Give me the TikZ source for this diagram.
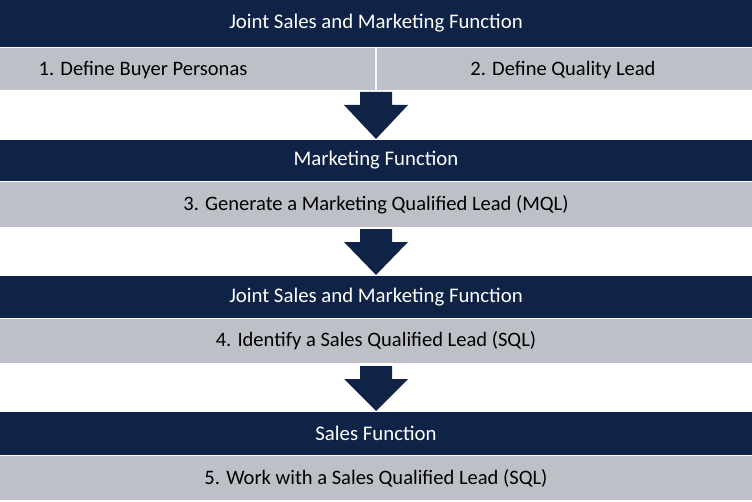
\documentclass[tikz,border=0pt]{standalone}
\usepackage{fontspec}
\setmainfont{Carlito}
\definecolor{navy}{HTML}{0E2346}
\definecolor{lgray}{HTML}{BDC0C7}
\begin{document}
\begin{tikzpicture}[x=0.75pt,y=-0.75pt,
  hdr/.style={text=white,font=\fontsize{15.6}{18}\selectfont},
  row/.style={text=black,font=\fontsize{15.4}{18}\selectfont},
  arr/.style={fill=navy,draw=none}]
\useasboundingbox (0,0) rectangle (752,502);
% band 1
\fill[navy] (0,0) rectangle (752,47);
\node[hdr] (h1) at (376,23.5) {Joint Sales and Marketing Function};
\fill[lgray] (0,48) rectangle (752,90);
\draw[white!85!lgray,line width=0.8pt] (376,48) -- (376,90);
\node[row] (r1a) at (143,70) {1. Define Buyer Personas};
\node[row] (r1b) at (563,70) {2. Define Quality Lead};
\fill[arr] (360,92) -- (392,92) -- (392,105) -- (408,105) -- (376,139) -- (344,105) -- (360,105) -- cycle;
% band 2
\fill[navy] (0,140) rectangle (752,181);
\node[hdr] (h2) at (376,160.5) {Marketing Function};
\fill[lgray] (0,182) rectangle (752,227);
\node[row] (r2) at (376,204.5) {3. Generate a Marketing Qualified Lead (MQL)};
\fill[arr] (360,229) -- (392,229) -- (392,242) -- (408,242) -- (376,275) -- (344,242) -- (360,242) -- cycle;
% band 3
\fill[navy] (0,276) rectangle (752,318);
\node[hdr] (h3) at (376,297) {Joint Sales and Marketing Function};
\fill[lgray] (0,319) rectangle (752,363);
\node[row] (r3) at (376,341) {4. Identify a Sales Qualified Lead (SQL)};
\fill[arr] (360,366) -- (392,366) -- (392,379) -- (408,379) -- (376,411) -- (344,379) -- (360,379) -- cycle;
% band 4
\fill[navy] (0,412) rectangle (752,455);
\node[hdr] (h4) at (376,433.5) {Sales Function};
\fill[lgray] (0,456) rectangle (752,500);
\node[row] (r4) at (376,478) {5. Work with a Sales Qualified Lead (SQL)};
\end{tikzpicture}
\end{document}
